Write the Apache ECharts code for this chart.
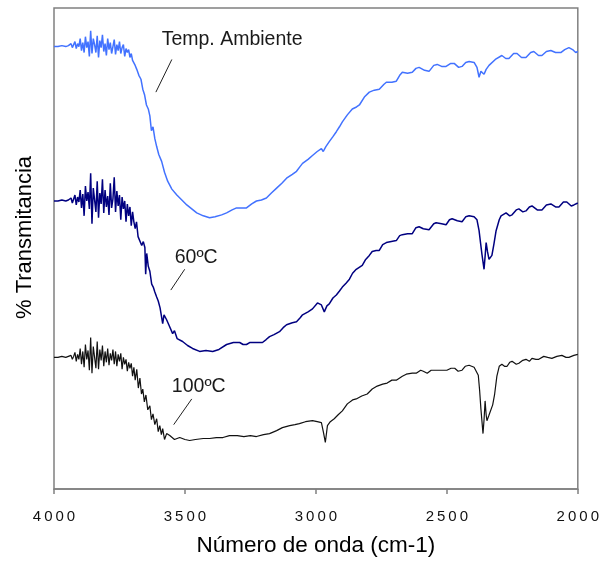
<!DOCTYPE html>
<html>
<head>
<meta charset="utf-8">
<script src="https://cdn.jsdelivr.net/npm/echarts/dist/echarts.min.js"></script>
<style>html,body{margin:0;padding:0;background:#fff}#c{width:602px;height:562px}</style>
</head>
<body>
<div id="c"></div>
<script>
// Wavenumber ticks (cm-1)
const xTicks = [4000, 3500, 3000, 2500, 2000];

// Series: [wavenumber, transmittance (a.u., stacked offsets)]
const ambiente = [[4000,447],[3985,447],[3970,448],[3955,447],[3945,448],
[3940,448],[3935,450],[3930,446],[3925,449],[3920,452],[3915,445],[3910,450],[3905,447],[3900,455],[3895,443],[3890,451],[3885,441],[3880,457],[3875,446],[3870,452],[3865,437],[3860,463],[3855,440],[3850,455],[3845,449],[3840,441],[3835,458],[3830,436],[3825,453],[3820,446],[3815,459],[3810,442],[3805,450],[3800,438],[3795,455],[3790,444],[3785,451],[3780,440],[3775,447],[3770,454],[3765,439],[3760,449],[3755,443],[3750,452],[3745,440],[3740,446],[3735,449],[3730,437],[3725,445],[3720,441],[3715,444],[3710,436],[3705,440],[3700,433],[3695,431],[3690,428],
[3684,424],[3676,418],[3668,414],[3661,404],[3654,398],[3647,388],[3640,384],[3634,377],[3628,362],[3622,366],[3615,354],[3608,346],[3600,338],[3589,331],[3578,320],[3566,311],[3550,303],[3531,297],[3512,292],[3493,287],[3474,283],[3455,279],[3430,276],[3406,274],[3385,275],[3360,277],[3341,279],[3320,282],[3303,284],[3280,284],[3265,284],[3245,288],[3227,291],[3208,292],[3189,294],[3170,299],[3150,304],[3130,309],[3112,314],[3090,318],[3074,321],[3060,326],[3051,329],[3030,333],[3013,337],[2995,341],[2979,344],[2972,341],[2962,346],[2949,351],[2935,356],[2922,361],[2910,366],[2899,371],[2880,378],[2861,384],[2845,386],[2834,388],[2815,396],[2796,401],[2777,403],[2758,404],[2740,409],[2731,411],[2710,411],[2693,412],[2680,418],[2670,421],[2650,420],[2632,421],[2618,425],[2606,426],[2585,423],[2568,422],[2550,428],[2537,429],[2520,427],[2503,427],[2485,430],[2472,430],[2455,426],[2442,427],[2428,431],[2415,432],[2396,431],[2385,426],[2377,416],[2370,422],[2366,424],[2358,419],[2350,424],[2339,428],[2315,434],[2290,438],[2275,435],[2263,435],[2245,440],[2232,440],[2215,436],[2198,436],[2180,441],[2168,442],[2150,438],[2137,438],[2120,442],[2103,443],[2085,441],[2065,441],[2050,444],[2034,446],[2020,444],[2008,441],[2000,442]];

const t60 = [[4000,291],[3985,291],[3970,292],[3955,291],[3945,292],
[3940,292],[3935,294],[3930,289],[3925,293],[3920,297],[3915,287],[3910,295],[3905,290],[3900,302],[3895,284],[3890,298],[3885,276],[3880,306],[3875,291],[3870,300],[3865,283],[3860,319],[3855,268],[3850,304],[3845,292],[3840,280],[3835,311],[3830,274],[3825,299],[3820,288],[3815,313],[3810,279],[3805,302],[3800,285],[3795,296],[3790,277],[3785,309],[3780,284],[3775,293],[3770,315],[3765,280],[3760,301],[3755,286],[3750,297],[3745,272],[3740,295],[3735,283],[3730,291],[3725,270],[3720,288],[3715,276],[3710,285],[3705,266],[3700,280],[3695,270],[3690,263],[3685,270],
[3679,255],[3672,257],[3665,246],[3659,250],[3653,244],[3650,217],[3646,238],[3640,225],[3634,220],[3627,207],[3621,204],[3615,199],[3608,194],[3602,190],[3595,183],[3589,181],[3585,167],[3580,176],[3570,171],[3560,165],[3547,157],[3540,160],[3530,152],[3509,149],[3490,145],[3471,142],[3444,139],[3420,140],[3394,139],[3370,141],[3341,146],[3315,148],[3291,148],[3278,146],[3265,146],[3253,148],[3230,148],[3204,148],[3190,151],[3177,154],[3160,156],[3139,159],[3125,163],[3112,166],[3090,168],[3074,169],[3060,173],[3051,176],[3030,179],[3013,182],[2994,188],[2979,186],[2968,179],[2958,185],[2949,187],[2935,193],[2922,196],[2910,200],[2899,204],[2885,208],[2872,212],[2860,218],[2846,222],[2823,226],[2810,232],[2796,236],[2785,240],[2770,241],[2758,241],[2745,247],[2731,249],[2712,250],[2693,251],[2680,256],[2670,257],[2650,258],[2632,258],[2618,264],[2606,265],[2590,263],[2568,262],[2550,268],[2541,269],[2520,268],[2503,267],[2490,272],[2480,273],[2460,271],[2442,270],[2428,275],[2415,276],[2396,275],[2385,272],[2377,261],[2372,250],[2366,237],[2358,222],[2354,235],[2350,249],[2345,240],[2339,232],[2333,234],[2328,236],[2320,248],[2312,261],[2300,272],[2293,276],[2274,279],[2260,276],[2251,277],[2235,282],[2225,283],[2210,280],[2198,281],[2185,285],[2175,286],[2155,282],[2137,282],[2120,287],[2103,288],[2085,285],[2072,285],[2055,290],[2042,290],[2025,286],[2015,287],[2000,289]];

const t100 = [[4000,133],[3985,133],[3970,134],[3955,133],[3945,134],
[3940,133],[3935,135],[3930,131],[3925,134],[3920,138],[3915,129],[3910,136],[3905,131],[3900,142],[3895,126],[3890,139],[3885,123],[3880,146],[3875,131],[3870,140],[3865,120],[3860,153],[3855,117],[3850,144],[3845,133],[3840,122],[3835,149],[3830,121],[3825,141],[3820,130],[3815,145],[3810,124],[3805,139],[3800,128],[3795,142],[3790,125],[3785,137],[3780,130],[3775,141],[3770,126],[3765,139],[3760,124],[3755,136],[3750,129],[3745,137],[3740,121],[3735,133],[3730,126],[3725,131],[3720,119],[3715,128],[3710,122],[3705,127],[3700,114],[3695,123],[3690,110],
[3684,121],[3678,102],[3672,112],[3666,96],[3661,101],[3655,88],[3649,95],[3642,80],[3634,84],[3628,70],[3622,76],[3615,65],[3608,71],[3602,58],[3596,64],[3590,55],[3585,61],[3578,50],[3570,56],[3558,54],[3540,50],[3520,52],[3500,50],[3482,49],[3460,50],[3430,51],[3406,51],[3380,52],[3355,52],[3330,54],[3300,54],[3275,53],[3250,54],[3227,53],[3200,55],[3177,56],[3150,59],[3128,62],[3100,64],[3080,65],[3063,66],[3040,68],[3013,69],[2995,68],[2979,67],[2971,57],[2964,47],[2956,64],[2945,68],[2930,71],[2915,75],[2899,79],[2880,86],[2860,90],[2846,91],[2825,94],[2804,96],[2785,101],[2766,104],[2745,106],[2728,107],[2710,110],[2693,110],[2670,114],[2655,116],[2632,117],[2617,117],[2600,120],[2590,119],[2575,117],[2560,120],[2540,120],[2518,120],[2500,120],[2484,122],[2470,122],[2457,119],[2442,120],[2430,124],[2415,125],[2396,123],[2389,122],[2380,115],[2375,100],[2370,81],[2362,56],[2358,70],[2354,89],[2350,75],[2347,69],[2340,74],[2335,76],[2325,85],[2318,95],[2309,114],[2300,124],[2290,126],[2280,124],[2270,124],[2260,128],[2251,129],[2235,126],[2225,127],[2210,130],[2198,131],[2185,129],[2175,132],[2160,131],[2149,131],[2130,134],[2115,133],[2099,132],[2080,134],[2061,135],[2045,133],[2034,133],[2015,135],[2000,136]];

// Annotations (in data coordinates)
const annTexts = ['Temp. Ambiente', '60ºC', '100ºC'];
const annTextAt = [[3589, 454], [3539, 234], [3550, 103]];
const annLineFrom = [[3550, 434], [3501, 222], [3474, 91]];
const annLineTo = [[3611, 401], [3554, 201], [3543, 65]];

const chart = echarts.init(document.getElementById('c'), null, {renderer: 'canvas'});
const font = 'Arial, "Liberation Sans", sans-serif';
chart.setOption({
  animation: false,
  backgroundColor: '#fff',
  grid: {left: 54, right: 23, top: 8, bottom: 68, show: true, borderColor: '#808080', borderWidth: 1.5, backgroundColor: 'transparent'},
  xAxis: {
    type: 'value', inverse: true, min: 2000, max: 4000, interval: 500,
    axisLine: {show: true, lineStyle: {color: '#808080', width: 1.5}},
    axisTick: {show: true, length: 5, lineStyle: {color: '#808080', width: 1.5}},
    axisLabel: {color: '#111', fontSize: 15, fontFamily: font, margin: 20,
      formatter: v => xTicks.indexOf(v) >= 0 ? String(v).split('').join('\u2009') : ''},
    splitLine: {show: false},
    name: 'Número de onda (cm-1)', nameLocation: 'middle', nameGap: 45,
    nameTextStyle: {color: '#000', fontSize: 22.5, fontFamily: font}
  },
  yAxis: {
    type: 'value', min: 0, max: 486,
    axisLine: {show: false}, axisTick: {show: false}, axisLabel: {show: false}, splitLine: {show: false},
    name: '% Transmitancia', nameLocation: 'middle', nameGap: 18,
    nameTextStyle: {color: '#000', fontSize: 22, fontFamily: font, padding: [0, 0, 0, 22]}
  },
  series: [
    {name: 'Temp. Ambiente', type: 'line', data: ambiente, showSymbol: false, lineStyle: {color: '#4272ff', width: 1.5}},
    {name: '60ºC', type: 'line', data: t60, showSymbol: false, lineStyle: {color: '#000080', width: 1.5}},
    {name: '100ºC', type: 'line', data: t100, showSymbol: false, lineStyle: {color: '#111111', width: 1.2}}
  ]
});

const g = [];
annTexts.forEach((t, i) => {
  const p = chart.convertToPixel({xAxisIndex: 0, yAxisIndex: 0}, annTextAt[i]);
  const a = chart.convertToPixel({xAxisIndex: 0, yAxisIndex: 0}, annLineFrom[i]);
  const b = chart.convertToPixel({xAxisIndex: 0, yAxisIndex: 0}, annLineTo[i]);
  g.push({type: 'text', x: p[0], y: p[1], style: {text: t, fill: '#1a1a1a', font: '19.5px ' + font, textAlign: 'left', textVerticalAlign: 'middle'}});
  g.push({type: 'line', shape: {x1: a[0], y1: a[1], x2: b[0], y2: b[1]}, style: {stroke: '#222', lineWidth: 1}});
});
chart.setOption({graphic: g});
</script>
</body>
</html>
